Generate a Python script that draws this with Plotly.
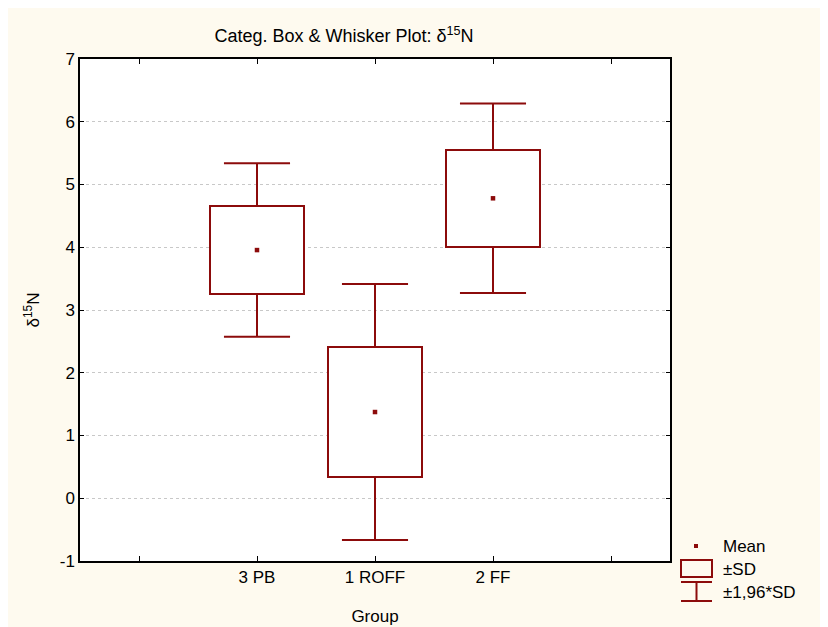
import plotly.graph_objects as go

# ---- data ----
groups = ["3 PB", "1 ROFF", "2 FF"]
means = [3.955, 1.374, 4.78]
sds = [0.705, 1.04, 0.77]
sd_factor = 1.96
tick_positions = [0, 1, 2, 3, 4]
tick_labels = ["", "3 PB", "1 ROFF", "2 FF", ""]
y_ticks = [-1, 0, 1, 2, 3, 4, 5, 6, 7]
y_tick_labels = ["-1", "0", "1", "2", "3", "4", "5", "6", "7"]

DARK = "#8c0b0b"
CREAM = "#fefaef"
FONT = "Liberation Sans, Arial, sans-serif"

xpos = [1, 2, 3]
q1 = [m - s for m, s in zip(means, sds)]
q3 = [m + s for m, s in zip(means, sds)]
lo = [m - sd_factor * s for m, s in zip(means, sds)]
hi = [m + sd_factor * s for m, s in zip(means, sds)]

BOXW = 0.8
CAP = 0.28

fig = go.Figure()
# ±SD boxes
fig.add_trace(go.Bar(
    x=xpos, y=[2 * s for s in sds], base=q1, width=BOXW,
    marker=dict(color="white", line=dict(color=DARK, width=2)),
    showlegend=False, hoverinfo="skip",
))
# ±1.96*SD whiskers
wx, wy = [], []
for x, a, b, c, d in zip(xpos, lo, q1, q3, hi):
    wx += [x, x, None, x - CAP, x + CAP, None, x, x, None, x - CAP, x + CAP, None]
    wy += [c, d, None, d, d, None, b, a, None, a, a, None]
fig.add_trace(go.Scatter(
    x=wx, y=wy, mode="lines", line=dict(color=DARK, width=2),
    showlegend=False, hoverinfo="skip",
))
# means
fig.add_trace(go.Scatter(
    x=xpos, y=means, mode="markers",
    marker=dict(symbol="square", size=4.5, color=DARK), showlegend=False,
))

OX, OY = 8, 8          # page offset of the figure (body margin)
W, H = 815, 619
L, T = 80 - OX, 59 - OY
R = W + OX - 670
B = H + OY - 561
pw, ph = W - L - R, H - T - B

def px(x):
    return (x - OX - L) / pw

def py(y):
    return (H - B - (y - OY)) / ph

shapes = [
    dict(type="rect", xref="paper", yref="paper", x0=px(694), x1=px(698), y0=py(548), y1=py(544),
         fillcolor=DARK, line=dict(width=0)),
    dict(type="rect", xref="paper", yref="paper", x0=px(681), x1=px(712), y0=py(577), y1=py(560),
         fillcolor="rgba(0,0,0,0)", line=dict(color=DARK, width=2)),
    dict(type="line", xref="paper", yref="paper", x0=px(681), x1=px(712), y0=py(582), y1=py(582),
         line=dict(color=DARK, width=2)),
    dict(type="line", xref="paper", yref="paper", x0=px(681), x1=px(712), y0=py(601), y1=py(601),
         line=dict(color=DARK, width=2)),
    dict(type="line", xref="paper", yref="paper", x0=px(696.5), x1=px(696.5), y0=py(582), y1=py(601),
         line=dict(color=DARK, width=2)),
]

annotations = [
    dict(text=t, xref="paper", yref="paper", x=px(721), y=py(yy), xanchor="left", yanchor="middle",
         showarrow=False, font=dict(family=FONT, size=17, color="black"))
    for t, yy in [("Mean", 546.5), ("±SD", 569.5), ("±1,96*SD", 592)]
]

fig.update_layout(
    width=W, height=H,
    margin=dict(l=L, r=R, t=T, b=B, autoexpand=False),
    paper_bgcolor=CREAM, plot_bgcolor="white",
    font=dict(family=FONT, size=17, color="black"),
    title=dict(text="Categ. Box & Whisker Plot: δ<sup>15</sup>N", x=(344 - OX) / W, xanchor="center",
               y=1 - (36 - OY) / H, yanchor="middle", font=dict(family=FONT, size=18, color="black")),
    shapes=shapes, annotations=annotations, showlegend=False, bargap=0,
)
fig.update_xaxes(
    range=[-0.5, 4.5], tickvals=tick_positions, ticktext=tick_labels,
    showgrid=False, zeroline=False, showline=True, linecolor="black", linewidth=1.5,
    mirror="ticks", ticks="inside", ticklen=5, tickcolor="black", automargin=False,
    title=dict(text="Group", standoff=24, font=dict(size=17)),
)
fig.update_yaxes(
    range=[-1, 7], tickvals=y_ticks, ticktext=y_tick_labels,
    showgrid=True, gridcolor="#c8c8c8", griddash="dot", gridwidth=1,
    zeroline=False, showline=True, linecolor="black", linewidth=1.5,
    mirror="ticks", ticks="inside", ticklen=4, tickcolor="black", automargin=False,
    title=dict(text="δ<sup>15</sup>N", standoff=16, font=dict(size=17)),
)

fig.write_html("out.html")
